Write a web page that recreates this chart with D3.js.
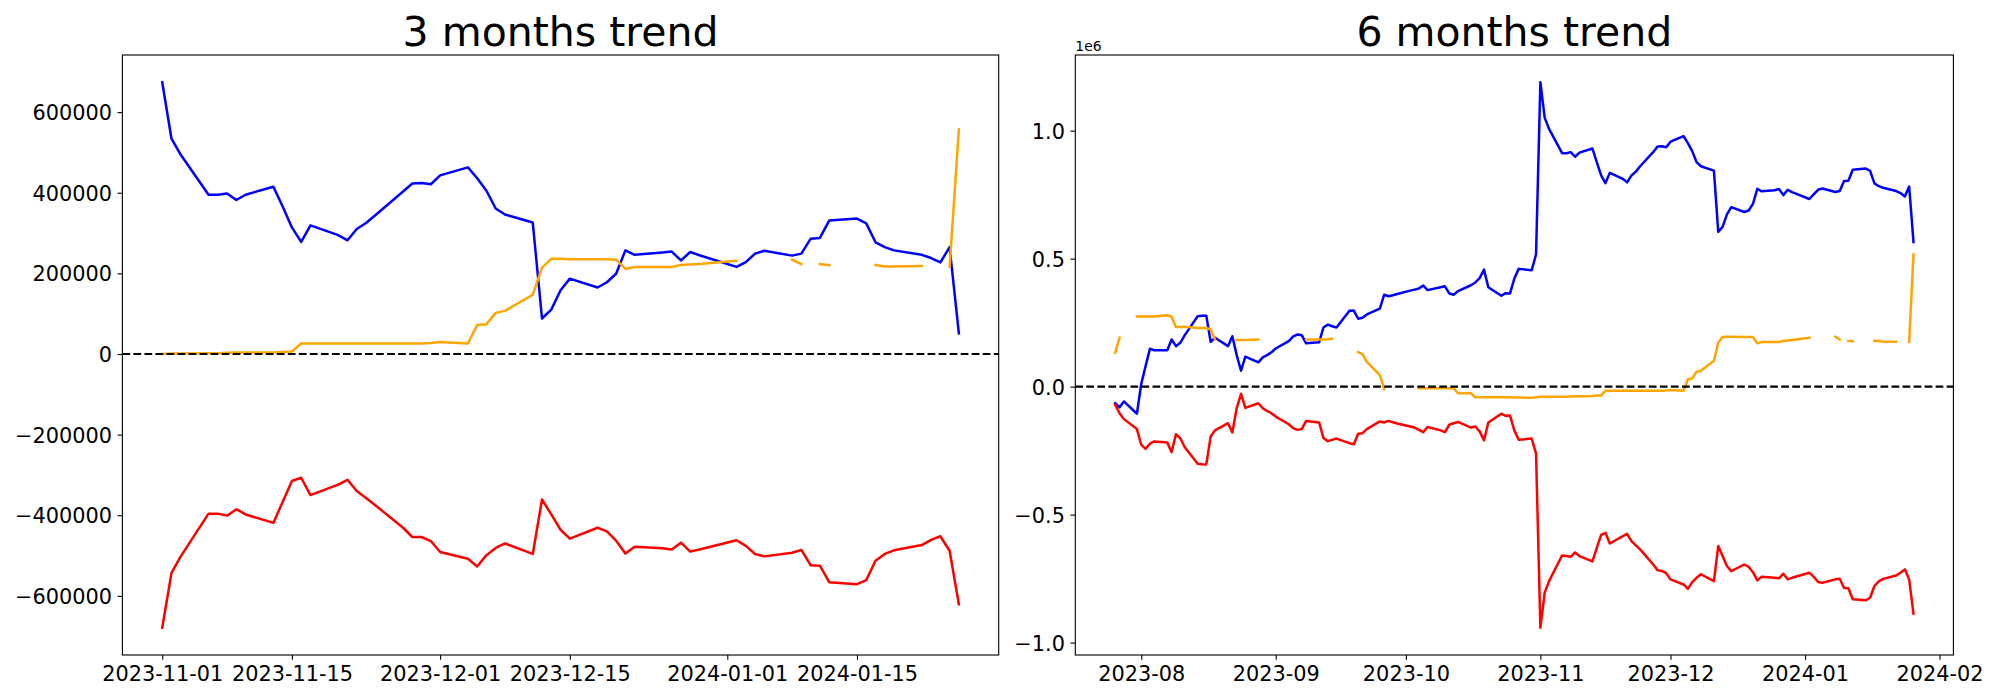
<!DOCTYPE html>
<html><head><meta charset="utf-8">
<script src="https://cdn.jsdelivr.net/npm/d3@7"></script>
<style>body{margin:0;background:#fff;} svg{display:block;background:#fff;}</style>
</head><body><svg id="chart" width="2000" height="700"></svg>
<script>
// ---------------- DATA ----------------
const dates3 = ["2023-11-01","2023-11-02","2023-11-03","2023-11-06","2023-11-07","2023-11-08","2023-11-09","2023-11-10","2023-11-13","2023-11-14","2023-11-15","2023-11-16","2023-11-17","2023-11-20","2023-11-21","2023-11-22","2023-11-23","2023-11-24","2023-11-27","2023-11-28","2023-11-29","2023-11-30",
"2023-12-01","2023-12-04","2023-12-05","2023-12-06","2023-12-07","2023-12-08","2023-12-11","2023-12-12","2023-12-13","2023-12-14","2023-12-15","2023-12-18","2023-12-19","2023-12-20","2023-12-21","2023-12-22","2023-12-25","2023-12-26","2023-12-27","2023-12-28","2023-12-29",
"2024-01-02","2024-01-03","2024-01-04","2024-01-05","2024-01-08","2024-01-09","2024-01-10","2024-01-11","2024-01-12","2024-01-15","2024-01-16","2024-01-17","2024-01-18","2024-01-19","2024-01-22","2024-01-23","2024-01-24","2024-01-25","2024-01-26"];

const blue3 = [674000,534000,494000,395000,395000,398000,382000,395000,415000,366000,314000,278000,319000,295000,282000,310000,325000,344000,403000,423000,424000,421000,
443000,463000,436000,405000,361000,346000,326000,88000,110000,158000,187000,165000,178000,199000,257000,246000,252000,254000,232000,253000,245000,
216000,228000,249000,256000,244000,249000,286000,288000,331000,336000,324000,277000,265000,257000,246000,238000,227000,265000,51000];

const orange3 = [0,1000,1000,2000,2000,3000,4000,4000,4000,5000,6000,26000,26000,26000,26000,26000,26000,26000,26000,26000,26000,27000,
30000,26000,72000,74000,102000,107000,147000,214000,236000,236000,235000,235000,235000,234000,211000,216000,216000,216000,221000,222000,223000,
231000,null,null,null,234000,223000,null,223000,220000,null,null,221000,217000,217000,218000,null,null,216000,557000];

const red3 = [-679000,-543000,-502000,-396000,-396000,-401000,-385000,-398000,-419000,-367000,-315000,-307000,-350000,-324000,-312000,-340000,-357000,-375000,-431000,-454000,-454000,-464000,
-491000,-508000,-527000,-499000,-481000,-470000,-496000,-361000,-398000,-436000,-458000,-431000,-440000,-463000,-495000,-478000,-482000,-485000,-468000,-490000,-485000,
-462000,-476000,-496000,-502000,-493000,-486000,-524000,-525000,-566000,-571000,-561000,-513000,-496000,-487000,-474000,-461000,-452000,-488000,-621000];

const dates6 = ["2023-07-26","2023-07-27","2023-07-28","2023-07-31",
"2023-08-01","2023-08-02","2023-08-03","2023-08-04","2023-08-07","2023-08-08","2023-08-09","2023-08-10","2023-08-11","2023-08-14","2023-08-15","2023-08-16","2023-08-17","2023-08-18","2023-08-21","2023-08-22","2023-08-23","2023-08-24","2023-08-25","2023-08-28","2023-08-29","2023-08-30","2023-08-31",
"2023-09-01","2023-09-04","2023-09-05","2023-09-06","2023-09-07","2023-09-08","2023-09-11","2023-09-12","2023-09-13","2023-09-14","2023-09-15","2023-09-18","2023-09-19","2023-09-20","2023-09-21","2023-09-22","2023-09-25","2023-09-26","2023-09-27","2023-09-28","2023-09-29",
"2023-10-02","2023-10-03","2023-10-04","2023-10-05","2023-10-06","2023-10-09","2023-10-10","2023-10-11","2023-10-12","2023-10-13","2023-10-16","2023-10-17","2023-10-18","2023-10-19","2023-10-20","2023-10-23","2023-10-24","2023-10-25","2023-10-26","2023-10-27","2023-10-30","2023-10-31"].concat(dates3);

const blue6 = [-65000,-81000,-58000,-106000,
10000,80000,148000,142000,142000,184000,158000,171000,200000,275000,277000,277000,175000,191000,158000,197000,123000,62000,117000,95000,114000,123000,134000,
149000,178000,195000,204000,201000,169000,173000,231000,242000,236000,231000,296000,297000,265000,269000,282000,305000,359000,353000,357000,362000,
375000,379000,383000,395000,377000,388000,392000,364000,359000,373000,396000,407000,424000,457000,388000,355000,365000,364000,422000,460000,455000,516000,
1189000,1050000,1007000,912000,912000,916000,898000,914000,930000,877000,825000,795000,835000,812000,798000,825000,840000,861000,916000,938000,939000,935000,
957000,979000,951000,920000,877000,861000,844000,604000,624000,673000,701000,682000,688000,714000,773000,763000,767000,772000,748000,769000,760000,
733000,751000,769000,774000,760000,764000,803000,804000,847000,852000,843000,794000,783000,777000,764000,756000,743000,782000,565000];

const orange6 = [132000,191000,null,274000,
274000,274000,274000,274000,279000,273000,233000,233000,234000,229000,229000,229000,223000,184000,null,null,182000,182000,182000,184000,null,null,null,
null,null,null,null,null,184000,184000,184000,185000,187000,null,null,null,135000,127000,97000,45000,-10000,null,null,null,
null,null,-6000,-6000,-6000,-6000,-6000,-6000,-6000,-26000,-26000,-42000,-42000,-42000,-42000,-42000,-42000,-42000,-43000,-43000,-44000,-42000,
-40000,-40000,-40000,-40000,-40000,-39000,-38000,-38000,-37000,-35000,-35000,-16000,-16000,-16000,-16000,-16000,-16000,-16000,-16000,-16000,-16000,-15000,
-13000,-16000,29000,32000,58000,62000,101000,171000,194000,195000,195000,194000,194000,194000,169000,174000,174000,174000,178000,180000,182000,
191000,null,null,null,195000,184000,null,178000,177000,null,null,179000,178000,175000,175000,null,null,175000,516000];

const red6 = [-71000,-104000,-127000,-166000,
-227000,-243000,-223000,-214000,-218000,-256000,-186000,-202000,-236000,-301000,-303000,-304000,-195000,-171000,-143000,-179000,-84000,-28000,-83000,-65000,-84000,-95000,-104000,
-117000,-147000,-162000,-169000,-166000,-134000,-140000,-201000,-213000,-208000,-203000,-221000,-225000,-184000,-182000,-166000,-136000,-140000,-134000,-139000,-144000,
-156000,-160000,-169000,-178000,-158000,-171000,-178000,-149000,-143000,-138000,-160000,-156000,-175000,-210000,-140000,-106000,-114000,-113000,-171000,-208000,-203000,-262000,
-942000,-805000,-760000,-660000,-662000,-665000,-648000,-662000,-683000,-630000,-579000,-571000,-613000,-584000,-575000,-604000,-620000,-636000,-695000,-717000,-720000,-729000,
-753000,-773000,-790000,-764000,-747000,-733000,-760000,-623000,-662000,-701000,-721000,-695000,-704000,-725000,-757000,-743000,-747000,-749000,-731000,-753000,-747000,
-727000,-743000,-763000,-766000,-753000,-751000,-787000,-788000,-831000,-835000,-825000,-779000,-761000,-751000,-738000,-727000,-714000,-753000,-887000];

const xTicks3 = ["2023-11-01","2023-11-15","2023-12-01","2023-12-15","2024-01-01","2024-01-15"];
const yTicks3 = [-600000,-400000,-200000,0,200000,400000,600000];
const xTicks6 = ["2023-08-01","2023-09-01","2023-10-01","2023-11-01","2023-12-01","2024-01-01","2024-02-01"];
const yTicks6 = [-1000000,-500000,0,500000,1000000];
const titles = ["3 months trend","6 months trend"];
const seriesColors = ["blue","red","orange"];

// ---------------- DRAW ----------------
const svg = d3.select("#chart");
const parse = d3.utcParse("%Y-%m-%d");
const FONT = '"DejaVu Sans", sans-serif';
const LW = 2.5, ZLW = 2.08, TICK = 4.86, SP = 1.11, TFS = 20.83;
const minus = s => s.replace(/-/g, "\u2212");

function panel(cfg) {
  const g = svg.append("g");
  const b = cfg.box;
  const dts = cfg.dates.map(parse);
  const all = cfg.series.flatMap(s => s.values).filter(v => v != null);
  const [ymin, ymax] = d3.extent(all), yp = (ymax - ymin) * 0.05;
  const [xmin, xmax] = d3.extent(dts), xp = (xmax - xmin) * 0.05;
  const x = d3.scaleUtc().domain([new Date(+xmin - xp), new Date(+xmax + xp)]).range([b.left, b.right]);
  const y = d3.scaleLinear().domain([ymin - yp, ymax + yp]).range([b.bottom, b.top]);

  cfg.series.forEach(s => {
    const line = d3.line().defined(d => d[1] != null).x(d => x(d[0])).y(d => y(d[1]));
    g.append("path").datum(dts.map((d, i) => [d, s.values[i]]))
      .attr("d", line).attr("fill", "none").attr("stroke", s.color)
      .attr("stroke-width", LW).attr("stroke-linejoin", "round").attr("stroke-linecap", "square");
  });

  g.append("line").attr("x1", b.left).attr("x2", b.right).attr("y1", y(0)).attr("y2", y(0))
    .attr("stroke", "black").attr("stroke-width", ZLW).attr("stroke-dasharray", "7.7,3.33");

  const xa = d3.axisBottom(x).tickValues(cfg.xTicks.map(parse)).tickFormat(cfg.xFmt)
    .tickSizeInner(TICK).tickSizeOuter(0).tickPadding(6);
  const gx = g.append("g").attr("transform", `translate(0,${b.bottom})`).call(xa);
  const ya = d3.axisLeft(y).tickValues(cfg.yTicks).tickFormat(cfg.yFmt)
    .tickSizeInner(TICK).tickSizeOuter(0).tickPadding(5.5);
  const gy = g.append("g").attr("transform", `translate(${b.left},0)`).call(ya);
  [gx, gy].forEach(a => {
    a.select(".domain").remove();
    a.selectAll(".tick line").attr("stroke", "black").attr("stroke-width", SP);
    a.selectAll(".tick text").attr("fill", "black").style("font-family", FONT).style("font-size", TFS + "px");
  });
  gy.selectAll(".tick text").attr("dy", "0.365em");

  g.append("rect").attr("x", b.left).attr("y", b.top).attr("width", b.right - b.left).attr("height", b.bottom - b.top)
    .attr("fill", "none").attr("stroke", "black").attr("stroke-width", SP);

  g.append("text").attr("x", (b.left + b.right) / 2).attr("y", 46).attr("text-anchor", "middle")
    .style("font-family", FONT).style("font-size", "41px").attr("fill", "black").text(cfg.title);

  if (cfg.offsetText) {
    g.append("text").attr("x", b.left).attr("y", 50.5).style("font-family", FONT)
      .style("font-size", "13.9px").attr("fill", "black").text(cfg.offsetText);
  }
}

panel({
  box: {left: 122.4, right: 998.7, top: 55, bottom: 655},
  dates: dates3,
  series: [{values: blue3, color: seriesColors[0]}, {values: red3, color: seriesColors[1]}, {values: orange3, color: seriesColors[2]}],
  xTicks: xTicks3, xFmt: d3.utcFormat("%Y-%m-%d"),
  yTicks: yTicks3, yFmt: v => minus(d3.format("d")(v)),
  title: titles[0]
});

panel({
  box: {left: 1075.3, right: 1953.4, top: 55, bottom: 655},
  dates: dates6,
  series: [{values: blue6, color: seriesColors[0]}, {values: red6, color: seriesColors[1]}, {values: orange6, color: seriesColors[2]}],
  xTicks: xTicks6, xFmt: d3.utcFormat("%Y-%m"),
  yTicks: yTicks6, yFmt: v => minus((v / 1e6).toFixed(1)),
  title: titles[1], offsetText: "1e6"
});
</script>
</body></html>
